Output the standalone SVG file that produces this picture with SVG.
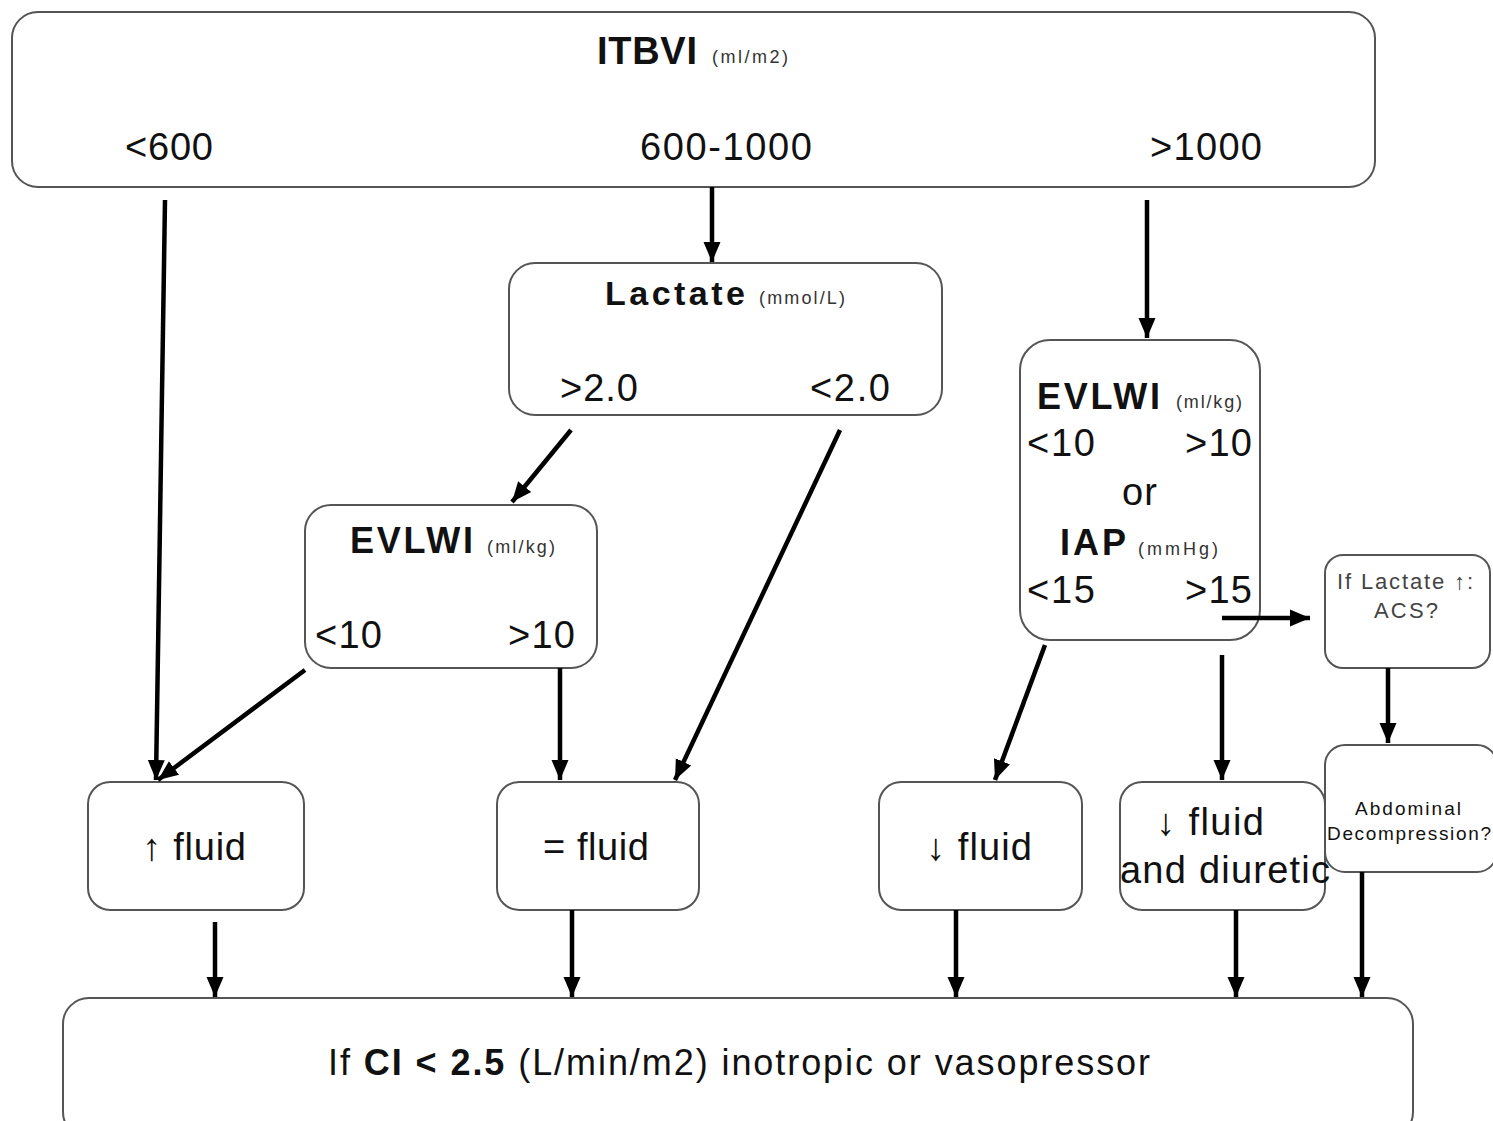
<svg xmlns="http://www.w3.org/2000/svg" width="1493" height="1121" viewBox="0 0 1493 1121">
<style>
.box{fill:#fff;stroke:#555;stroke-width:2}
.t{font-family:"Liberation Sans",Arial,sans-serif;fill:#111}
.b{font-weight:bold}
.s{font-size:18px;fill:#333}
.g{fill:#444}
.c{stroke:#000;stroke-width:4.5;fill:none;marker-end:url(#ah)}
</style>
<defs>
<marker id="ah" markerUnits="userSpaceOnUse" markerWidth="22" markerHeight="22" viewBox="0 0 22 22" refX="20" refY="11" orient="auto">
<path d="M0,2.5 L20,11 L0,19.5 Z" fill="#000"/>
</marker>
</defs>
<rect width="1493" height="1121" fill="#fff"/>
<g id="itbvi">
<rect class="box" x="12" y="12" width="1363" height="175" rx="26"/>
<text class="t b" x="597" y="64" font-size="38" textLength="100">ITBVI</text>
<text class="t s" x="712" y="63" textLength="76">(ml/m2)</text>
<text class="t" x="125" y="160" font-size="38" textLength="88">&lt;600</text>
<text class="t" x="640" y="160" font-size="38" textLength="172">600-1000</text>
<text class="t" x="1150" y="160" font-size="38" textLength="112">&gt;1000</text>
</g>
<g id="lactate">
<rect class="box" x="509" y="263" width="433" height="152" rx="26"/>
<text class="t b" x="605" y="305" font-size="34" textLength="140">Lactate</text>
<text class="t s" x="759" y="304" textLength="86">(mmol/L)</text>
<text class="t" x="560" y="401" font-size="38" textLength="78">&gt;2.0</text>
<text class="t" x="810" y="401" font-size="38" textLength="80">&lt;2.0</text>
</g>
<g id="evlwi-left">
<rect class="box" x="305" y="505" width="292" height="163" rx="26"/>
<text class="t b" x="350" y="553" font-size="36" textLength="123">EVLWI</text>
<text class="t s" x="487" y="553" textLength="68">(ml/kg)</text>
<text class="t" x="315" y="648" font-size="38" textLength="67">&lt;10</text>
<text class="t" x="508" y="648" font-size="38" textLength="67">&gt;10</text>
</g>
<g id="evlwi-right">
<rect class="box" x="1020" y="340" width="240" height="300" rx="30"/>
<text class="t b" x="1037" y="409" font-size="36" textLength="123">EVLWI</text>
<text class="t s" x="1176" y="408" textLength="66">(ml/kg)</text>
<text class="t" x="1027" y="456" font-size="38" textLength="68">&lt;10</text>
<text class="t" x="1185" y="456" font-size="38" textLength="67">&gt;10</text>
<text class="t" x="1122" y="505" font-size="38" textLength="35">or</text>
<text class="t b" x="1060" y="555" font-size="36" textLength="66">IAP</text>
<text class="t s" x="1138" y="555" textLength="80">(mmHg)</text>
<text class="t" x="1027" y="603" font-size="38" textLength="68">&lt;15</text>
<text class="t" x="1185" y="603" font-size="38" textLength="67">&gt;15</text>
</g>
<g id="acs">
<rect class="box" x="1325" y="555" width="165" height="113" rx="18"/>
<text class="t g" x="1405" y="589" font-size="22" text-anchor="middle" textLength="136">If Lactate ↑:</text>
<text class="t g" x="1406" y="618" font-size="22" text-anchor="middle" textLength="64">ACS?</text>
</g>
<g id="decompression">
<rect class="box" x="1325" y="745" width="172" height="127" rx="20"/>
<text class="t" x="1408" y="815" font-size="19" text-anchor="middle" textLength="106">Abdominal</text>
<text class="t" x="1409" y="840" font-size="19" text-anchor="middle" textLength="164">Decompression?</text>
</g>
<g id="increase-fluid">
<rect class="box" x="88" y="782" width="216" height="128" rx="22"/>
<text class="t" x="142" y="860" font-size="38" textLength="104">↑ fluid</text>
</g>
<g id="equal-fluid">
<rect class="box" x="497" y="782" width="202" height="128" rx="22"/>
<text class="t" x="543" y="860" font-size="38" textLength="106">= fluid</text>
</g>
<g id="decrease-fluid">
<rect class="box" x="879" y="782" width="203" height="128" rx="22"/>
<text class="t" x="926" y="860" font-size="38" textLength="106">↓ fluid</text>
</g>
<g id="fluid-diuretic">
<rect class="box" x="1120" y="782" width="205" height="128" rx="22"/>
<text class="t" x="1156" y="835" font-size="38" textLength="108">↓ fluid</text>
<text class="t" x="1120" y="883" font-size="38" textLength="210">and diuretic</text>
</g>
<g id="ci">
<rect class="box" x="63" y="998" width="1350" height="140" rx="26"/>
<text class="t" x="328" y="1075" font-size="36" textLength="822">If <tspan class="b">CI &lt; 2.5</tspan> (L/min/m2) inotropic or vasopressor</text>
</g>
<g id="connectors">
<line class="c" x1="165" y1="200" x2="156" y2="780"/>
<line class="c" x1="712" y1="187" x2="712" y2="262"/>
<line class="c" x1="1147" y1="200" x2="1147" y2="338"/>
<line class="c" x1="571" y1="430" x2="512" y2="502"/>
<line class="c" x1="840" y1="430" x2="675" y2="780"/>
<line class="c" x1="305" y1="670" x2="158" y2="780"/>
<line class="c" x1="560" y1="668" x2="560" y2="780"/>
<line class="c" x1="1222" y1="618" x2="1310" y2="618"/>
<line class="c" x1="1045" y1="645" x2="995" y2="780"/>
<line class="c" x1="1222" y1="655" x2="1222" y2="780"/>
<line class="c" x1="1388" y1="668" x2="1388" y2="743"/>
<line class="c" x1="215" y1="922" x2="215" y2="997"/>
<line class="c" x1="572" y1="910" x2="572" y2="997"/>
<line class="c" x1="956" y1="910" x2="956" y2="997"/>
<line class="c" x1="1236" y1="910" x2="1236" y2="997"/>
<line class="c" x1="1362" y1="872" x2="1362" y2="997"/>
</g>
</svg>
